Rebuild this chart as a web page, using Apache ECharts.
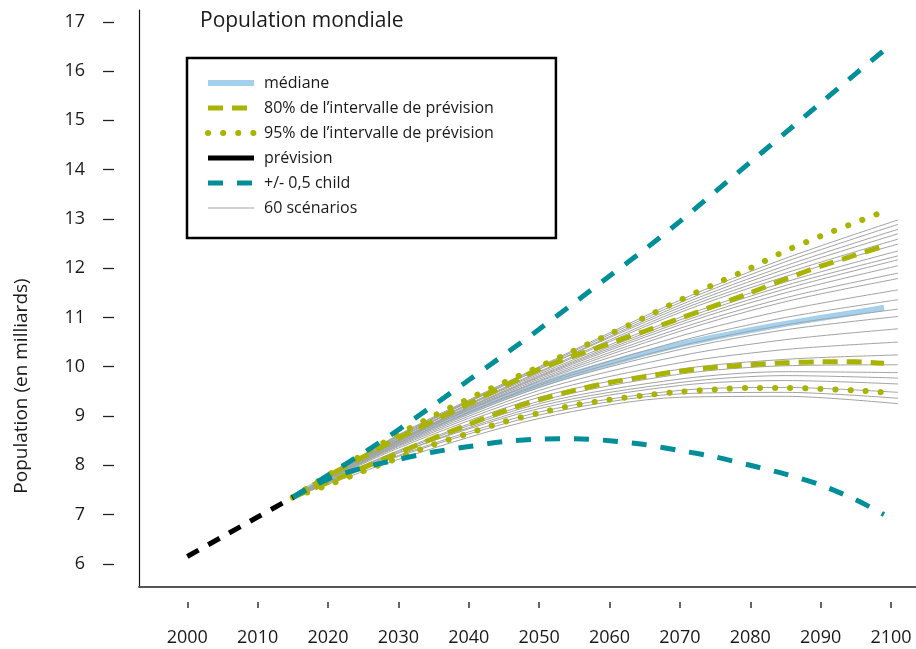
<!DOCTYPE html>
<html>
<head>
<meta charset="utf-8">
<script src="https://cdn.jsdelivr.net/npm/echarts@6/dist/echarts.min.js"></script>
<style>
html,body{margin:0;padding:0;background:#fff;}
#chart{width:916px;height:649px;}
</style>
</head>
<body>
<div id="chart"></div>
<script>
// ---------- data ----------
const histYears = [2000, 2005, 2010, 2015];
const histPop = [6.15, 6.55, 6.95, 7.35];

const projYears = [2015, 2020, 2025, 2030, 2035, 2040, 2045, 2050, 2055, 2060, 2065, 2070, 2075, 2080, 2085, 2090, 2095, 2099];
const median    = [7.35, 7.75, 8.12, 8.47, 8.80, 9.10, 9.38, 9.63, 9.86, 10.07, 10.27, 10.45, 10.60, 10.74, 10.87, 10.99, 11.10, 11.20];
const upper80   = [7.35, 7.78, 8.17, 8.55, 8.90, 9.25, 9.60, 9.95, 10.22, 10.47, 10.72, 10.98, 11.24, 11.50, 11.78, 12.04, 12.27, 12.45];
const lower80   = [7.35, 7.65, 7.95, 8.25, 8.55, 8.83, 9.10, 9.33, 9.52, 9.68, 9.80, 9.91, 9.99, 10.04, 10.08, 10.10, 10.10, 10.07];
const upper95   = [7.35, 7.80, 8.22, 8.63, 9.00, 9.35, 9.68, 10.00, 10.33, 10.66, 11.00, 11.35, 11.68, 12.00, 12.35, 12.65, 12.93, 13.15];
const lower95   = [7.35, 7.60, 7.88, 8.15, 8.42, 8.65, 8.88, 9.06, 9.22, 9.33, 9.42, 9.49, 9.54, 9.57, 9.57, 9.55, 9.52, 9.48];
const upperChild= [7.35, 7.80, 8.25, 8.72, 9.22, 9.73, 10.24, 10.76, 11.30, 11.84, 12.38, 12.95, 13.55, 14.15, 14.75, 15.35, 15.95, 16.42];
const lowerChild= [7.35, 7.72, 7.95, 8.12, 8.27, 8.38, 8.48, 8.53, 8.54, 8.50, 8.42, 8.30, 8.17, 8.00, 7.82, 7.60, 7.30, 7.00];

const scenarioYears = [2015, 2030, 2050, 2070, 2085, 2101];
const scenarios = [
  [7.35, 8.62, 10.00, 11.35, 12.20, 12.98],
  [7.35, 8.60, 9.98, 11.30, 12.13, 12.89],
  [7.35, 8.58, 9.95, 11.25, 12.05, 12.79],
  [7.35, 8.60, 9.95, 11.20, 11.98, 12.70],
  [7.35, 8.56, 9.90, 11.15, 11.90, 12.59],
  [7.35, 8.55, 9.88, 11.10, 11.83, 12.49],
  [7.35, 8.55, 9.85, 11.00, 11.72, 12.35],
  [7.35, 8.52, 9.82, 10.95, 11.65, 12.25],
  [7.35, 8.50, 9.80, 10.90, 11.58, 12.17],
  [7.35, 8.52, 9.78, 10.85, 11.50, 12.05],
  [7.35, 8.50, 9.75, 10.78, 11.40, 11.90],
  [7.35, 8.48, 9.72, 10.72, 11.32, 11.79],
  [7.35, 8.48, 9.70, 10.62, 11.15, 11.56],
  [7.35, 8.45, 9.65, 10.52, 11.00, 11.36],
  [7.35, 8.45, 9.62, 10.42, 10.85, 11.17],
  [7.35, 8.42, 9.58, 10.35, 10.75, 11.02],
  [7.35, 8.40, 9.52, 10.22, 10.55, 10.77],
  [7.35, 8.38, 9.45, 10.08, 10.35, 10.50],
  [7.35, 8.35, 9.38, 9.95, 10.15, 10.24],
  [7.35, 8.30, 9.30, 9.85, 10.02, 10.04],
  [7.35, 8.28, 9.25, 9.75, 9.90, 9.88],
  [7.35, 8.25, 9.20, 9.68, 9.82, 9.77],
  [7.35, 8.25, 9.15, 9.62, 9.72, 9.65],
  [7.35, 8.20, 9.08, 9.52, 9.58, 9.48],
  [7.35, 8.18, 9.02, 9.45, 9.48, 9.36],
  [7.35, 8.12, 8.95, 9.38, 9.40, 9.25]
];

const xTicks = [2000, 2010, 2020, 2030, 2040, 2050, 2060, 2070, 2080, 2090, 2100];
const yTicks = [6, 7, 8, 9, 10, 11, 12, 13, 14, 15, 16, 17];

const N_MED = 'médiane', N_80 = "80% de l’intervalle de prévision", N_95 = "95% de l’intervalle de prévision",
      N_PREV = 'prévision', N_CHILD = '+/- 0,5 child', N_SCEN = '60 scénarios';

// ---------- build ----------
const pairs = (xs, ys) => xs.map((x, i) => [x, ys[i]]);
const FONT = '"Open Sans", sans-serif';
const OLIVE = '#a9b400', TEAL = '#008f98', BLUE = '#a3d0ec', GRAY = '#a3a3a3';
const XMIN = 1993.14, XMAX = 2103.55, YMIN = 5.53, YMAX = 17.24;

function line(name, data, color, width, type, extra) {
  return Object.assign({
    type: 'line', name: name, data: data, showSymbol: false, symbol: 'none',
    smooth: 0.3, silent: true, animation: false,
    lineStyle: { color: color, width: width, type: type },
    itemStyle: { color: color }
  }, extra || {});
}

const dotStyle = { color: OLIVE, width: 6, type: [0.1, 15], cap: 'round' };
const series = [];
series.push(line(N_MED, pairs(projYears, median), BLUE, 6, 'solid', { z: 2 }));
scenarios.forEach(s => series.push(line(N_SCEN, pairs(scenarioYears, s), GRAY, 1, 'solid', { z: 3 })));
series.push(line(N_80, pairs(projYears, upper80), OLIVE, 5, [15, 9], { z: 4 }));
series.push(line(N_80, pairs(projYears, lower80), OLIVE, 5, [15, 9], { z: 4 }));
series.push(line(N_95, pairs(projYears, upper95), OLIVE, 6, [0.1, 15], { z: 4, lineStyle: dotStyle }));
series.push(line(N_95, pairs(projYears, lower95), OLIVE, 6, [0.1, 15], { z: 4, lineStyle: dotStyle }));
series.push(line(N_CHILD, pairs(projYears, upperChild), TEAL, 5, [15, 14], { z: 5 }));
series.push(line(N_CHILD, pairs(projYears, lowerChild), TEAL, 5, [15, 14], { z: 5 }));
series.push(line(N_PREV, pairs(histYears, histPop), '#000', 5, [13, 11], { z: 5 }));

const hidden = { opacity: 0, color: 'rgba(0,0,0,0)', borderWidth: 0 };
const chart = echarts.init(document.getElementById('chart'), null, { renderer: 'canvas' });
chart.setOption({
  animation: false,
  backgroundColor: '#fff',
  title: {
    text: 'Population mondiale', left: 195, top: 6,
    textStyle: { fontFamily: FONT, fontSize: 21, fontWeight: 'normal', color: '#1a1a1a' }
  },
  legend: {
    orient: 'vertical', left: 187, top: 58,
    padding: [16, 62, 21, 18],
    borderColor: '#000', borderWidth: 2.5, backgroundColor: '#fff',
    itemWidth: 46, itemHeight: 14, itemGap: 7,
    selectedMode: false,
    itemStyle: hidden,
    lineStyle: { width: 'inherit' },
    textStyle: { fontFamily: FONT, fontSize: 16, color: '#1a1a1a', lineHeight: 18, padding: [0, 0, 0, 5] },
    data: [
      { name: N_MED, itemStyle: hidden },
      { name: N_80, itemStyle: hidden },
      { name: N_95, itemStyle: hidden },
      { name: N_PREV, itemStyle: hidden, lineStyle: { type: 'solid' } },
      { name: N_CHILD, itemStyle: hidden },
      { name: N_SCEN, itemStyle: hidden }
    ]
  },
  grid: { left: 139, right: 0, top: 10, bottom: 62, containLabel: false },
  xAxis: [
    {
      type: 'value', min: XMIN, max: XMAX, position: 'bottom',
      axisLine: { show: true, lineStyle: { color: '#555', width: 2 } },
      axisTick: { show: false }, axisLabel: { show: false }, splitLine: { show: false }
    },
    {
      type: 'value', min: XMIN, max: XMAX, position: 'bottom', offset: 15,
      axisLine: { show: false },
      axisTick: { show: true, length: 6, customValues: xTicks, lineStyle: { color: '#333', width: 1.5 } },
      axisLabel: { show: true, customValues: xTicks, margin: 27, fontFamily: FONT, fontSize: 18, color: '#1a1a1a',
        formatter: v => String(Math.round(v)) },
      splitLine: { show: false }
    }
  ],
  yAxis: [
    {
      type: 'value', min: YMIN, max: YMAX, position: 'left',
      axisLine: { show: true, lineStyle: { color: '#111', width: 1.2 } },
      axisTick: { show: false }, axisLabel: { show: false }, splitLine: { show: false }
    },
    {
      type: 'value', min: YMIN, max: YMAX, position: 'left', offset: 25,
      axisLine: { show: false },
      axisTick: { show: true, inside: false, length: 11, customValues: yTicks, lineStyle: { color: '#222', width: 1.3 } },
      axisLabel: { show: true, customValues: yTicks, margin: 29, fontFamily: FONT, fontSize: 18, color: '#1a1a1a',
        formatter: v => String(Math.round(v)) },
      splitLine: { show: false }
    }
  ],
  graphic: [
    {
      type: 'text', x: 22, y: 386, rotation: Math.PI / 2,
      style: { text: 'Population (en milliards)', fontFamily: FONT, fontSize: 19, fill: '#1a1a1a',
        align: 'center', verticalAlign: 'middle' }
    }
  ],
  series: series
});
</script>
</body>
</html>
